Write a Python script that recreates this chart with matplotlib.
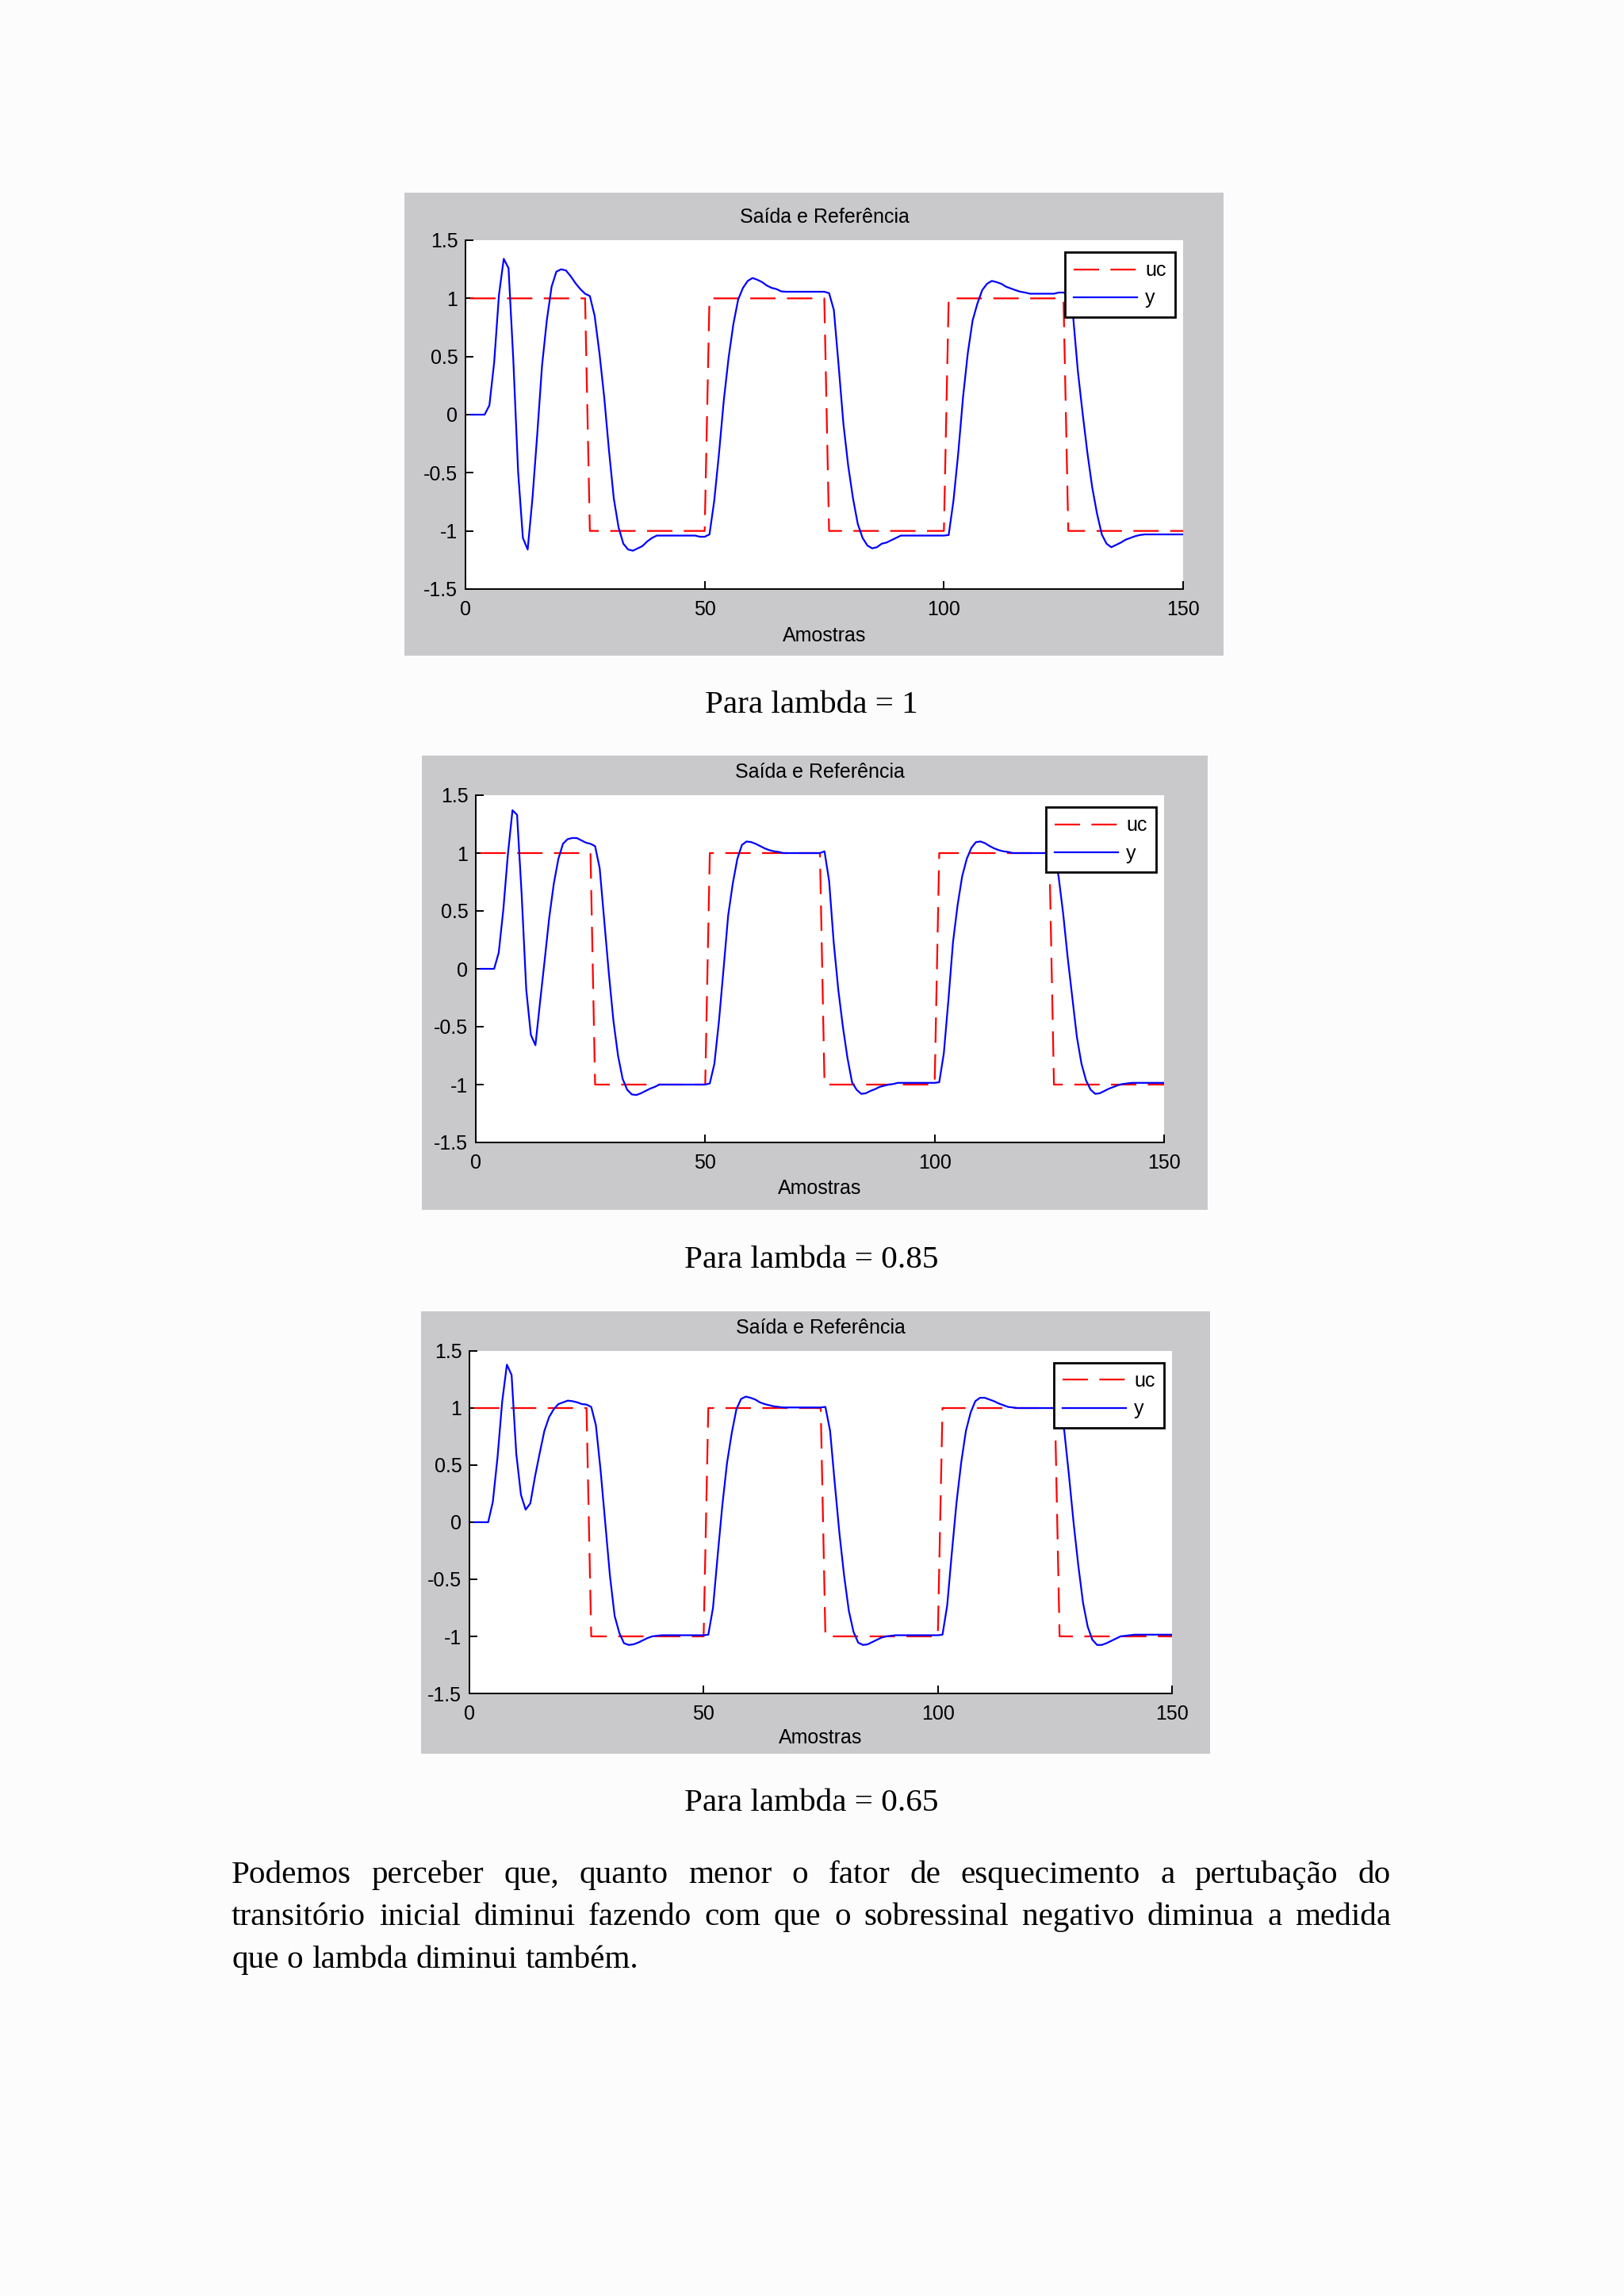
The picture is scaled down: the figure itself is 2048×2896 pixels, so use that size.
import numpy as np
import matplotlib
matplotlib.use('Agg')
import matplotlib.pyplot as plt
from matplotlib.patches import Rectangle

plt.rcParams['lines.scale_dashes'] = False

# ---- DATA ----
samples = np.arange(1, 151)

uc_levels = [1, -1, 1, -1, 1, -1]
uc_run = [25, 25, 25, 25, 25, 25]

y_lambda_1 = [
    0, 0, 0, 0, 0.08, 0.45, 1.03, 1.34, 1.26, 0.47,
    -0.49, -1.06, -1.16, -0.72, -0.17, 0.42, 0.81, 1.10, 1.23, 1.25,
    1.24, 1.19, 1.13, 1.08, 1.04, 1.02, 0.85, 0.53, 0.15, -0.31,
    -0.72, -0.97, -1.11, -1.16, -1.17, -1.15, -1.13, -1.09, -1.06, -1.04,
    -1.04, -1.04, -1.04, -1.04, -1.04, -1.04, -1.04, -1.04, -1.05, -1.05,
    -1.03, -0.74, -0.33, 0.125, 0.49, 0.78, 0.99, 1.09, 1.15, 1.175,
    1.16, 1.14, 1.11, 1.09, 1.08, 1.06, 1.057, 1.057, 1.057, 1.057,
    1.057, 1.057, 1.057, 1.057, 1.057, 1.045, 0.90, 0.42, -0.08, -0.44,
    -0.72, -0.94, -1.06, -1.125, -1.15, -1.14, -1.11, -1.10, -1.08, -1.06,
    -1.04, -1.04, -1.04, -1.04, -1.04, -1.04, -1.04, -1.04, -1.04, -1.04,
    -1.035, -0.74, -0.33, 0.15, 0.53, 0.81, 0.955, 1.07, 1.125, 1.15,
    1.14, 1.125, 1.10, 1.085, 1.07, 1.057, 1.05, 1.04, 1.04, 1.04,
    1.04, 1.04, 1.04, 1.05, 1.05, 1.03, 0.85, 0.375, 0.01, -0.33,
    -0.625, -0.85, -1.03, -1.11, -1.14, -1.12, -1.10, -1.075, -1.06, -1.045,
    -1.035, -1.03, -1.03, -1.03, -1.03, -1.03, -1.03, -1.03, -1.03, -1.03,
]

y_lambda_085 = [
    0, 0, 0, 0, 0.14, 0.51, 0.99, 1.37, 1.33, 0.64,
    -0.18, -0.57, -0.66, -0.29, 0.07, 0.44, 0.735, 0.95, 1.08, 1.12,
    1.13, 1.13, 1.11, 1.09, 1.08, 1.06, 0.87, 0.415, -0.04, -0.45,
    -0.75, -0.95, -1.045, -1.085, -1.09, -1.075, -1.055, -1.035, -1.02, -1.00,
    -1.00, -1.00, -1.00, -1.00, -1.00, -1.00, -1.00, -1.00, -1.00, -1.00,
    -0.99, -0.82, -0.45, 0.00, 0.46, 0.735, 0.95, 1.07, 1.10, 1.095,
    1.08, 1.06, 1.04, 1.025, 1.015, 1.01, 1.0, 1.0, 1.0, 1.0,
    1.0, 1.0, 1.0, 1.0, 1.0, 1.015, 0.76, 0.23, -0.18, -0.50,
    -0.77, -0.98, -1.045, -1.08, -1.075, -1.055, -1.04, -1.02, -1.01, -1.00,
    -0.995, -0.985, -0.985, -0.985, -0.985, -0.985, -0.985, -0.985, -0.985, -0.985,
    -0.98, -0.73, -0.27, 0.23, 0.55, 0.80, 0.95, 1.045, 1.095, 1.10,
    1.085, 1.06, 1.04, 1.025, 1.015, 1.01, 1.0, 1.0, 1.0, 1.0,
    1.0, 1.0, 1.0, 1.0, 1.0, 1.0, 0.80, 0.48, 0.095, -0.25,
    -0.59, -0.82, -0.965, -1.045, -1.08, -1.075, -1.055, -1.035, -1.02, -1.005,
    -0.995, -0.99, -0.985, -0.985, -0.985, -0.985, -0.985, -0.985, -0.985, -0.985,
]

y_lambda_065 = [
    0, 0, 0, 0, 0.18, 0.57, 1.06, 1.38, 1.29, 0.60,
    0.24, 0.11, 0.165, 0.40, 0.605, 0.80, 0.92, 0.99, 1.035, 1.05,
    1.065, 1.06, 1.05, 1.035, 1.03, 1.01, 0.85, 0.455, -0.01, -0.47,
    -0.82, -0.97, -1.06, -1.075, -1.07, -1.055, -1.035, -1.015, -1.00, -0.995,
    -0.99, -0.99, -0.99, -0.99, -0.99, -0.99, -0.99, -0.99, -0.99, -0.99,
    -0.985, -0.75, -0.29, 0.15, 0.52, 0.78, 0.99, 1.08, 1.10, 1.09,
    1.075, 1.05, 1.035, 1.025, 1.015, 1.01, 1.005, 1.005, 1.005, 1.005,
    1.005, 1.005, 1.005, 1.005, 1.005, 1.01, 0.80, 0.34, -0.10, -0.47,
    -0.775, -0.96, -1.055, -1.075, -1.07, -1.05, -1.03, -1.01, -1.00, -0.995,
    -0.99, -0.99, -0.99, -0.99, -0.99, -0.99, -0.99, -0.99, -0.99, -0.99,
    -0.985, -0.73, -0.265, 0.175, 0.525, 0.80, 0.96, 1.06, 1.09, 1.09,
    1.075, 1.06, 1.04, 1.025, 1.01, 1.005, 1.0, 1.0, 1.0, 1.0,
    1.0, 1.0, 1.0, 1.0, 1.0, 1.0, 0.80, 0.41, -0.01, -0.38,
    -0.705, -0.915, -1.03, -1.075, -1.075, -1.06, -1.04, -1.02, -1.00, -0.995,
    -0.99, -0.985, -0.985, -0.985, -0.985, -0.985, -0.985, -0.985, -0.985, -0.985,
]

x_ticks = [0, 50, 100, 150]
x_tick_labels = ['0', '50', '100', '150']
y_ticks = [-1.5, -1, -0.5, 0, 0.5, 1, 1.5]
y_tick_labels = ['-1.5', '-1', '-0.5', '0', '0.5', '1', '1.5']

plot_title = 'Saída e Referência'
x_label = 'Amostras'
legend_labels = ['uc', 'y']
captions = ['Para lambda = 1', 'Para lambda = 0.85', 'Para lambda = 0.65']
series = [y_lambda_1, y_lambda_085, y_lambda_065]

paragraph = [
    'Podemos perceber que, quanto menor o fator de esquecimento a pertubação do',
    'transitório inicial diminui fazendo com que o sobressinal negativo diminua a medida',
    'que o lambda diminui também.',
]

# ---- LAYOUT (pixels on the 2048x2896 page) ----
W, H = 2048, 2896
DPI = 200
page_bg = '#fcfcfd'
panel_grey = '#c9c9cc'
matlab_font = 'Liberation Sans'
doc_font = 'Liberation Serif'

# panel box (l, t, r, b), axes box (l, t, r, b), title y, ticklabel-free xlabel y, caption baseline
layout = [
    dict(panel=(510, 243, 1543, 827), axes=(587, 303, 1492, 743), title_y=274, xlabel_y=802, cap_y=899),
    dict(panel=(532, 953, 1523, 1526), axes=(600, 1003, 1468, 1441), title_y=974, xlabel_y=1499, cap_y=1599),
    dict(panel=(531, 1654, 1526, 2212), axes=(592, 1704, 1478, 2136), title_y=1675, xlabel_y=2192, cap_y=2284),
]


def fx(px):
    return px / W


def fy(py):
    return 1 - py / H


fig = plt.figure(figsize=(W / DPI, H / DPI), dpi=DPI, facecolor=page_bg)

uc = np.repeat(uc_levels, uc_run)

for lay, yv, cap in zip(layout, series, captions):
    pl, pt, pr, pb = lay['panel']
    fig.add_artist(Rectangle((fx(pl), fy(pb)), (pr - pl) / W, (pb - pt) / H,
                             transform=fig.transFigure, facecolor=panel_grey,
                             edgecolor='none', zorder=0))
    al, at, ar, ab = lay['axes']
    ax = fig.add_axes([fx(al), fy(ab), (ar - al) / W, (ab - at) / H])
    ax.set_facecolor('white')

    l1, = ax.plot(samples, uc, color='#ff0000', lw=0.8, dashes=(11.5, 5.2), label=legend_labels[0])
    l2, = ax.plot(samples, yv, color='#0000ff', lw=0.8, label=legend_labels[1])

    ax.set_xlim(0, 150)
    ax.set_ylim(-1.5, 1.5)
    ax.spines['top'].set_visible(False)
    ax.spines['right'].set_visible(False)
    for s in ['left', 'bottom']:
        ax.spines[s].set_linewidth(0.7)
    ax.set_xticks(x_ticks)
    ax.set_xticklabels(x_tick_labels)
    ax.set_yticks(y_ticks)
    ax.set_yticklabels(y_tick_labels)
    ax.tick_params(direction='in', length=3.5, width=0.7, labelsize=9)
    ax.tick_params(axis='x', pad=5)
    ax.tick_params(axis='y', pad=3.5)
    for lab in ax.get_xticklabels() + ax.get_yticklabels():
        lab.set_fontfamily(matlab_font)

    axw, axh = ar - al, ab - at
    leg = ax.legend(loc='upper right', bbox_to_anchor=(1 - 10 / axw, 1 - 15 / axh),
                    borderaxespad=0, fancybox=False, framealpha=1, edgecolor='black',
                    prop={'family': matlab_font, 'size': 9}, handlelength=3.2,
                    handletextpad=0.4, labelspacing=0.45, borderpad=0.45)
    leg.get_frame().set_linewidth(1.0)

    cx = fx((al + ar) / 2)
    fig.text(cx, fy(lay['title_y']), plot_title, ha='center', va='center',
             family=matlab_font, fontsize=9)
    fig.text(cx, fy(lay['xlabel_y']), x_label, ha='center', va='center',
             family=matlab_font, fontsize=9)
    fig.text(fx(1023), fy(lay['cap_y']), cap, ha='center', va='baseline',
             family=doc_font, fontsize=14.8)

# justified paragraph
renderer = fig.canvas.get_renderer()
left_px, right_px = 292, 1754
baselines = [2375, 2428, 2482]
for i, (line, base) in enumerate(zip(paragraph, baselines)):
    words = line.split(' ')
    texts = [fig.text(0, fy(base), w, ha='left', va='baseline', family=doc_font, fontsize=14.8)
             for w in words]
    widths = [t.get_window_extent(renderer).width for t in texts]
    if i == len(paragraph) - 1:
        sp = fig.text(0, 0, 'a a', family=doc_font, fontsize=14.8)
        sp2 = fig.text(0, 0, 'aa', family=doc_font, fontsize=14.8)
        gap = sp.get_window_extent(renderer).width - sp2.get_window_extent(renderer).width
        sp.remove()
        sp2.remove()
    else:
        gap = (right_px - left_px - sum(widths)) / (len(words) - 1)
    x = left_px
    for t, w in zip(texts, widths):
        t.set_x(fx(x))
        x += w + gap

fig.savefig('out.png', dpi=DPI, facecolor=page_bg)
